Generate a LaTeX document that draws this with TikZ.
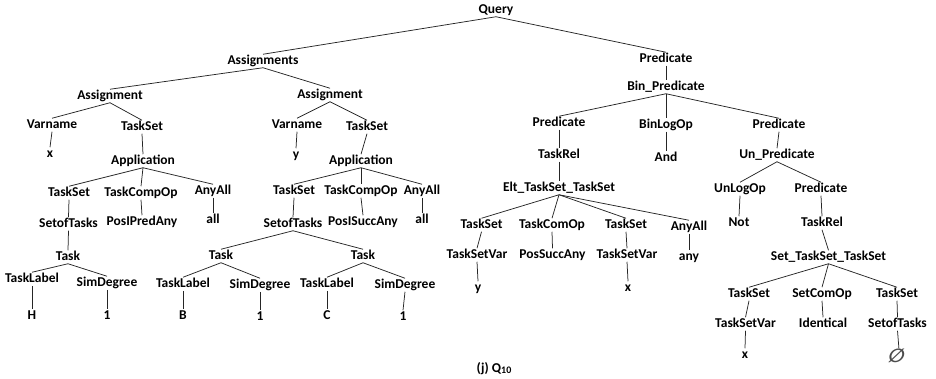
\documentclass[tikz,border=0pt]{standalone}
\usepackage{fontspec}
\setmainfont{Carlito}
\newfontfamily\symfont{DejaVu Sans}
\begin{document}
\begin{tikzpicture}[x=1pt,y=-1pt,
  tn/.style={font=\fontsize{13.5}{15}\selectfont\bfseries, inner sep=0.8pt, text height=9pt, text depth=2.5pt},
  edge/.style={draw=black!85, line width=0.75pt}]
\useasboundingbox (0,0) rectangle (936,379);
% left part
\node[tn] (Q) at (496,10) {Query};
\node[tn] (As) at (263,61) {Assignments};
\node[tn] (P0) at (666,59) {Predicate};
\node[tn] (AsL) at (110,96) {Assignment};
\node[tn] (AsR) at (330,95) {Assignment};
\node[tn] (VnL) at (52,125) {Varname};
\node[tn] (TsL) at (142,127) {TaskSet};
\node[tn] (xL) at (50,154) {x};
\node[tn] (AppL) at (143,161) {Application};
\node[tn] (VnR) at (297,125) {Varname};
\node[tn] (TsR) at (367,127) {TaskSet};
\node[tn] (yR) at (296,155) {y};
\node[tn] (AppR) at (361,161) {Application};
\node[tn] (TS1) at (69,193) {TaskSet};
\node[tn] (TCO1) at (141,193) {TaskCompOp};
\node[tn] (AA1) at (213,191) {AnyAll};
\node[tn] (SoT1) at (68.5,224) {SetofTasks};
\node[tn] (PIP) at (142,222) {PosIPredAny};
\node[tn] (all1) at (213,220) {all};
\node[tn] (Task1) at (68,257) {Task};
\node[tn] (TL1) at (32,279) {TaskLabel};
\node[tn] (SD1) at (107,283) {SimDegree};
\node[tn] (H) at (32,316) {H};
\node[tn] (one1) at (107,316) {1};
\node[tn] (TS2) at (294,191) {TaskSet};
\node[tn] (TCO2) at (361,191) {TaskCompOp};
\node[tn] (AA2) at (422,191) {AnyAll};
\node[tn] (SoT2) at (293,224) {SetofTasks};
\node[tn] (PIS) at (363,222) {PosISuccAny};
\node[tn] (all2) at (422,220) {all};
\node[tn] (TaskB) at (221,256) {Task};
\node[tn] (TaskC) at (363,256) {Task};
\node[tn] (TLB) at (183,284) {TaskLabel};
\node[tn] (SDB) at (260,285) {SimDegree};
\node[tn] (TLC) at (327,284) {TaskLabel};
\node[tn] (SDC) at (405,285) {SimDegree};
\node[tn] (B) at (183,316) {B};
\node[tn] (oneB) at (260,317) {1};
\node[tn] (C) at (327,316) {C};
\node[tn] (oneC) at (403,317) {1};
% right part
\node[tn] (BinP) at (666,87) {Bin\_Predicate};
\node[tn] (PL) at (559,123) {Predicate};
\node[tn] (BLO) at (666,125) {BinLogOp};
\node[tn] (PR) at (779,125) {Predicate};
\node[tn] (TRL) at (559,155) {TaskRel};
\node[tn] (And) at (666,158) {And};
\node[tn] (UnP) at (777,155) {Un\_Predicate};
\node[tn] (Elt) at (559,188) {Elt\_TaskSet\_TaskSet};
\node[tn] (ULO) at (740,189) {UnLogOp};
\node[tn] (PR2) at (821,189) {Predicate};
\node[tn] (TSa) at (481.5,225) {TaskSet};
\node[tn] (TCOa) at (552,225) {TaskComOp};
\node[tn] (TSb) at (626,225) {TaskSet};
\node[tn] (AAa) at (689,227) {AnyAll};
\node[tn] (Not) at (739,223) {Not};
\node[tn] (TRR) at (822,223) {TaskRel};
\node[tn] (TSVa) at (477,255) {TaskSetVar};
\node[tn] (PSA) at (552.5,255) {PosSuccAny};
\node[tn] (TSVb) at (627,255) {TaskSetVar};
\node[tn] (any) at (689,257) {any};
\node[tn] (STT) at (828.5,257) {Set\_TaskSet\_TaskSet};
\node[tn] (ya) at (478,288) {y};
\node[tn] (xb) at (628,288) {x};
\node[tn] (TSc) at (749,294) {TaskSet};
\node[tn] (SCO) at (822,294) {SetComOp};
\node[tn] (TSd) at (897,294) {TaskSet};
\node[tn] (TSVc) at (745.5,324) {TaskSetVar};
\node[tn] (Ide) at (823,324) {Identical};
\node[tn] (SoTd) at (897.5,324) {SetofTasks};
\node[tn] (xc) at (745,355) {x};
\node[inner sep=0.5pt, font=\symfont\bfseries\fontsize{19}{19}\selectfont, text=black!70, xslant=0.25] (emp) at (897,356) {∅};
\node[font=\fontsize{13.5}{15}\selectfont\bfseries] (cap) at (494,369) {(j) Q\raisebox{-0.8pt}{\fontsize{10}{11}\selectfont 10}};
% edges
\foreach \a/\b in {Q/As,Q/P0,As/AsL,As/AsR,AsL/VnL,AsL/TsL,VnL/xL,TsL/AppL,AppL/TS1,AppL/TCO1,AppL/AA1,TS1/SoT1,TCO1/PIP,AA1/all1,SoT1/Task1,Task1/TL1,Task1/SD1,TL1/H,SD1/one1,
  AsR/VnR,AsR/TsR,VnR/yR,TsR/AppR,AppR/TS2,AppR/TCO2,AppR/AA2,TS2/SoT2,TCO2/PIS,AA2/all2,SoT2/TaskB,SoT2/TaskC,TaskB/TLB,TaskB/SDB,TLB/B,SDB/oneB,TaskC/TLC,TaskC/SDC,TLC/C,SDC/oneC,
  P0/BinP,BinP/PL,BinP/BLO,BinP/PR,PL/TRL,TRL/Elt,Elt/TSa,Elt/TCOa,Elt/TSb,Elt/AAa,TSa/TSVa,TCOa/PSA,TSb/TSVb,AAa/any,TSVa/ya,TSVb/xb,BLO/And,PR/UnP,UnP/ULO,UnP/PR2,ULO/Not,PR2/TRR,TRR/STT,STT/TSc,STT/SCO,STT/TSd,TSc/TSVc,SCO/Ide,TSd/SoTd,TSVc/xc,SoTd/emp}
  \draw[edge] (\a.south) -- (\b.north);
\end{tikzpicture}
\end{document}
